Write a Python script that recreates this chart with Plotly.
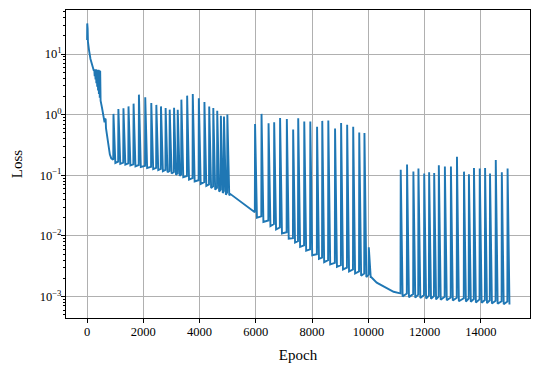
import plotly.graph_objects as go

# Data
# warm-up part before the periodic spikes
head_epoch = [0, 5, 12, 20, 30, 45, 70, 120, 180, 240, 255, 270, 285, 300, 315, 330, 345, 360,
              375, 390, 405, 420, 435, 450, 465, 480, 530, 580, 620, 635, 660, 672, 700, 715,
              760, 810, 860, 900]
head_loss = [17, 32, 19, 26, 16, 13.5, 11.5, 8.3, 6.5, 5.3, 5.6, 4.3, 5.6, 3.8, 5.6, 3.3, 5.5, 2.9,
             5.5, 2.5, 5.5, 2.2, 5.4, 1.9, 5.3, 1.7, 1.3, 0.95, 0.75, 0.85, 0.84, 0.6, 0.5, 0.42,
             0.30, 0.22, 0.19, 0.185]

# first block of spikes (epochs ~900-5000)
a_epoch = [930, 1105, 1285, 1465, 1645, 1835, 2060, 2275, 2455, 2620, 2785, 2930, 3085, 3215,
           3345, 3550, 3750, 3965, 4165, 4335, 4480, 4620, 4750, 4860, 4980]
a_peak = [1.03, 1.24, 1.27, 1.37, 1.52, 2.14, 1.93, 1.56, 1.45, 1.37, 1.29, 1.21, 1.30, 1.20,
          1.77, 2.06, 2.20, 1.86, 1.62, 1.36, 1.29, 1.16, 0.96, 0.93, 1.01]
a_floor = [0.180, 0.168, 0.162, 0.157, 0.152, 0.148, 0.143, 0.138, 0.133, 0.128, 0.123, 0.118,
           0.113, 0.108, 0.104, 0.097, 0.090, 0.083, 0.077, 0.071, 0.066, 0.062, 0.058, 0.055,
           0.052]
a_dip = [0.160, 0.155, 0.150, 0.146, 0.141, 0.137, 0.132, 0.127, 0.122, 0.117, 0.112, 0.107,
         0.102, 0.098, 0.093, 0.085, 0.079, 0.072, 0.067, 0.062, 0.058, 0.054, 0.051, 0.048,
         0.047]

# smooth stretch between the first and second block
mid_epoch = [5100, 5300, 5500, 5700, 5900]
mid_loss = [0.049, 0.042, 0.036, 0.031, 0.026]

# second block of spikes (epochs ~6000-10000)
b_epoch = [5965, 6195, 6445, 6645, 6855, 7095, 7320, 7500, 7715, 7930, 8170, 8355, 8570, 8810,
           9025, 9240, 9455, 9670, 9855, 10010]
b_peak = [0.70, 1.03, 0.72, 0.75, 0.88, 0.85, 0.57, 0.87, 0.77, 0.77, 0.63, 0.79, 0.80, 0.59,
          0.73, 0.68, 0.63, 0.51, 0.50, 0.0065]
b_floor = [0.0245, 0.0210, 0.0180, 0.0157, 0.0138, 0.0115, 0.0092, 0.0082, 0.0070, 0.0060,
           0.0050, 0.0044, 0.0040, 0.0036, 0.0033, 0.0030, 0.0028, 0.0026, 0.0024, 0.0023]
b_dip = [0.0200, 0.0170, 0.0145, 0.0128, 0.0110, 0.0090, 0.0078, 0.0066, 0.0057, 0.0048,
         0.0042, 0.0037, 0.0034, 0.0031, 0.0028, 0.0026, 0.0024, 0.0022, 0.0021, 0.0021]

# smooth stretch after epoch 10000
tail_epoch = [10100, 10300, 10500, 10700, 10900, 11100]
tail_loss = [0.0021, 0.0017, 0.0015, 0.00133, 0.0012, 0.00114]

# third block of spikes (epochs ~11000-15000)
c_epoch = [11145, 11370, 11595, 11775, 11980, 12155, 12335, 12500, 12715, 12930, 13145, 13395,
           13570, 13750, 13955, 14145, 14320, 14525, 14740, 14945]
c_peak = [0.124, 0.151, 0.116, 0.130, 0.107, 0.112, 0.109, 0.146, 0.140, 0.140, 0.203, 0.115,
          0.104, 0.132, 0.130, 0.132, 0.107, 0.179, 0.112, 0.130]
c_floor = [0.00113, 0.00112, 0.00110, 0.00108, 0.00106, 0.00104, 0.00102, 0.00100, 0.00099,
           0.00097, 0.00096, 0.00094, 0.00093, 0.00091, 0.00090, 0.00088, 0.00087, 0.00085,
           0.00084, 0.00083]
c_dip = [0.00100, 0.00098, 0.00096, 0.00095, 0.00093, 0.00092, 0.00090, 0.00089, 0.00087,
         0.00086, 0.00084, 0.00083, 0.00082, 0.00080, 0.00079, 0.00078, 0.00077, 0.00076,
         0.00075, 0.00074]


def spikes(epochs, peaks, floors, dips):
    # each spike: level before it, the peak, and where the decay lands
    xs, ys = [], []
    for e, p, f, d in zip(epochs, peaks, floors, dips):
        xs += [e, e + 8, e + 75]
        ys += [f, p, d]
    return xs, ys


ax, ay = spikes(a_epoch, a_peak, a_floor, a_dip)
bx, by = spikes(b_epoch, b_peak, b_floor, b_dip)
cx, cy = spikes(c_epoch, c_peak, c_floor, c_dip)

epoch = head_epoch + ax + mid_epoch + bx + tail_epoch + cx
loss = head_loss + ay + mid_loss + by + tail_loss + cy

font = "Liberation Serif, Times New Roman, serif"

fig = go.Figure()
fig.add_trace(go.Scatter(x=epoch, y=loss, mode="lines",
                         line=dict(color="#1f77b4", width=1.9), showlegend=False))

minor_vals = [m * 10 ** k for k in range(-4, 2) for m in range(2, 10)]

fig.update_xaxes(
    range=[-750, 15750],
    tickvals=[0, 2000, 4000, 6000, 8000, 10000, 12000, 14000],
    ticktext=["0", "2000", "4000", "6000", "8000", "10000", "12000", "14000"],
    ticks="outside", ticklen=4, tickcolor="black", ticklabelstandoff=-2,
    showline=True, mirror=True, linecolor="black", linewidth=1,
    showgrid=True, gridcolor="#b0b0b0", gridwidth=1, zeroline=False,
    automargin=False,
    title=dict(text="Epoch", standoff=11),
)
fig.update_yaxes(
    type="log",
    range=[-3.353, 1.726],
    tickvals=[1e-3, 1e-2, 1e-1, 1, 10],
    ticktext=["10<sup>\u22123</sup>", "10<sup>\u22122</sup>", "10<sup>\u22121</sup>",
              "10<sup>0</sup>", "10<sup>1</sup>"],
    ticks="outside", ticklen=4, tickcolor="black", ticklabelstandoff=-3,
    minor=dict(tickvals=minor_vals, ticks="outside", ticklen=2, tickcolor="black",
               showgrid=False),
    showline=True, mirror=True, linecolor="black", linewidth=1,
    showgrid=True, gridcolor="#b0b0b0", gridwidth=1, zeroline=False,
    automargin=False,
    title=dict(text="Loss", standoff=13),
)
# the page body adds an 8px offset, so the figure is a bit smaller than the window
fig.update_layout(
    width=532, height=363, autosize=False,
    margin=dict(l=58, r=10, t=2, b=53),
    paper_bgcolor="white", plot_bgcolor="white",
    font=dict(family=font, size=12.5, color="black"),
)

fig.write_html("out.html")
